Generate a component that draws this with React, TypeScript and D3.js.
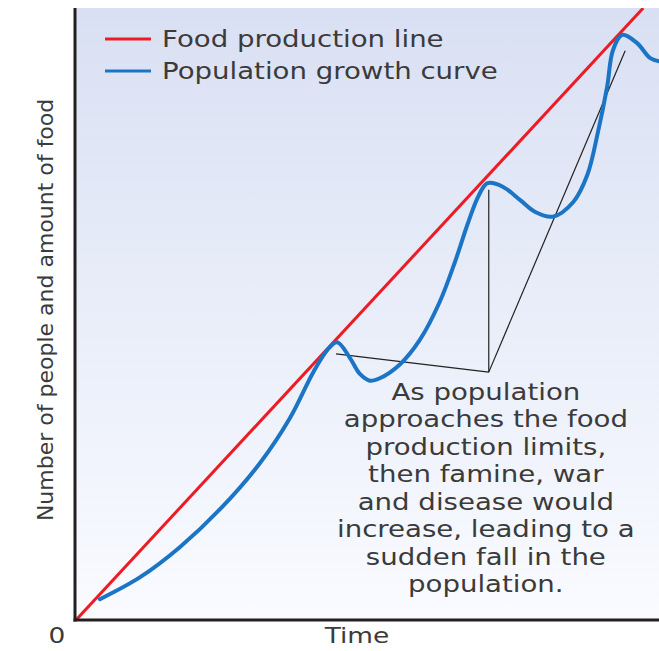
import * as d3 from 'd3'

// time (0-100) vs people/food (0-100)
const popTime = [4.1, 11.0, 17.8, 24.7, 31.6, 36.7, 40.7, 43.1, 44.8, 47.0, 48.7, 50.4, 52.1, 55.6, 59.0, 62.4, 65.0, 67.1, 68.8, 70.0, 70.7, 73.2, 76.2, 78.7, 81.8, 85.3, 87.7, 89.5, 91.1, 92.1, 93.7, 96.2, 98.5, 100]
const popValue = [3.4, 7.0, 11.9, 18.1, 25.7, 33.0, 40.5, 44.1, 45.4, 42.8, 40.2, 39.1, 39.5, 41.8, 45.8, 52.0, 58.5, 64.5, 68.8, 70.9, 71.4, 70.8, 68.6, 66.7, 65.9, 68.3, 72.7, 79.6, 87.1, 93.1, 95.6, 94.3, 91.8, 91.3]

const foodTime = [0, 97.3]
const foodValue = [0, 100]

// pointer lines: three ends meeting at a corner
const pointerCorner: [number, number] = [70.8, 40.5]
const pointerEnds: [number, number][] = [[44.6, 43.5], [70.8, 70.3], [94.2, 93.0]]

const noteLines = [
  'As population',
  'approaches the food',
  'production limits,',
  'then famine, war',
  'and disease would',
  'increase, leading to a',
  'sudden fall in the',
  'population.'
]
const noteX = 70.3

const legendItems = [
  { label: 'Food production line', color: '#ed1c24' },
  { label: 'Population growth curve', color: '#1b75c4' }
]

const W = 659, H = 651
const m = { top: 8, right: 0, bottom: 31, left: 76 }
const font = '"DejaVu Sans", "Open Sans", sans-serif'
const textColor = '#3b3b3b'
const stretch = 1.2

export default function App() {
  const x = d3.scaleLinear().domain([0, 100]).range([m.left, W - m.right])
  const y = d3.scaleLinear().domain([0, 100]).range([H - m.bottom, m.top])

  const line = d3.line<[number, number]>()
    .x(d => x(d[0])).y(d => y(d[1]))

  const smooth = d3.line<[number, number]>()
    .x(d => x(d[0])).y(d => y(d[1])).curve(d3.curveCatmullRom.alpha(0.5))

  const popData = popTime.map((t, i) => [t, popValue[i]] as [number, number])
  const foodData = foodTime.map((t, i) => [t, foodValue[i]] as [number, number])

  const x0 = m.left, x1 = W - m.right, y0 = m.top, y1 = H - m.bottom

  return (
    <svg width={W} height={H} style={{ position: 'absolute', left: 0, top: 0, background: '#fff' }}>
      <defs>
        <linearGradient id="bg" x1="0" y1="0" x2="0" y2="1">
          <stop offset="0%" stopColor="#d9e0f3" />
          <stop offset="100%" stopColor="#f9fbff" />
        </linearGradient>
        <clipPath id="plot">
          <rect x={x0} y={y0} width={x1 - x0} height={y1 - y0} />
        </clipPath>
      </defs>

      <rect x={x0} y={y0} width={x1 - x0} height={y1 - y0} fill="url(#bg)" />

      {/* pointer lines */}
      <g stroke="#222" strokeWidth={1.2} fill="none">
        {pointerEnds.map((e, i) => (
          <path key={i} d={line([e, pointerCorner]) ?? ''} />
        ))}
      </g>

      <g clipPath="url(#plot)">
        <path d={line(foodData) ?? ''} fill="none" stroke={legendItems[0].color} strokeWidth={3} />
        <path d={smooth(popData) ?? ''} fill="none" stroke={legendItems[1].color} strokeWidth={4} strokeLinecap="round" />
      </g>

      {/* axes */}
      <g stroke="#231f20" strokeWidth={3} fill="none">
        <line x1={x0 - 1} y1={y0} x2={x0 - 1} y2={y1 + 1.5} />
        <line x1={x0 - 2.5} y1={y1} x2={x1} y2={y1} />
      </g>

      {/* legend */}
      {legendItems.map((it, i) => (
        <g key={it.label} transform={`translate(105,${39 + i * 32})`}>
          <line x1={0} x2={46} y1={0} y2={0} stroke={it.color} strokeWidth={3} />
          <text transform={`translate(57,8) scale(${stretch},1)`} fontFamily={font} fontSize={23} fill={textColor}>{it.label}</text>
        </g>
      ))}

      {/* annotation */}
      <g transform={`translate(${x(noteX)},0) scale(${stretch},1)`}>
        <text fontFamily={font} fontSize={23} fill={textColor} textAnchor="middle">
          {noteLines.map((s, i) => (
            <tspan key={i} x={0} y={400 + i * 27.5}>{s}</tspan>
          ))}
        </text>
      </g>

      {/* axis labels */}
      <text transform={`translate(57,643) scale(${stretch},1)`} fontFamily={font} fontSize={22} fill={textColor} textAnchor="middle">0</text>
      <text transform={`translate(357,643) scale(${stretch},1)`} fontFamily={font} fontSize={22} fill={textColor} textAnchor="middle">Time</text>
      <text transform="translate(53,310) rotate(-90)" fontFamily={font} fontSize={22} fill={textColor} textAnchor="middle">
        Number of people and amount of food
      </text>
    </svg>
  )
}
